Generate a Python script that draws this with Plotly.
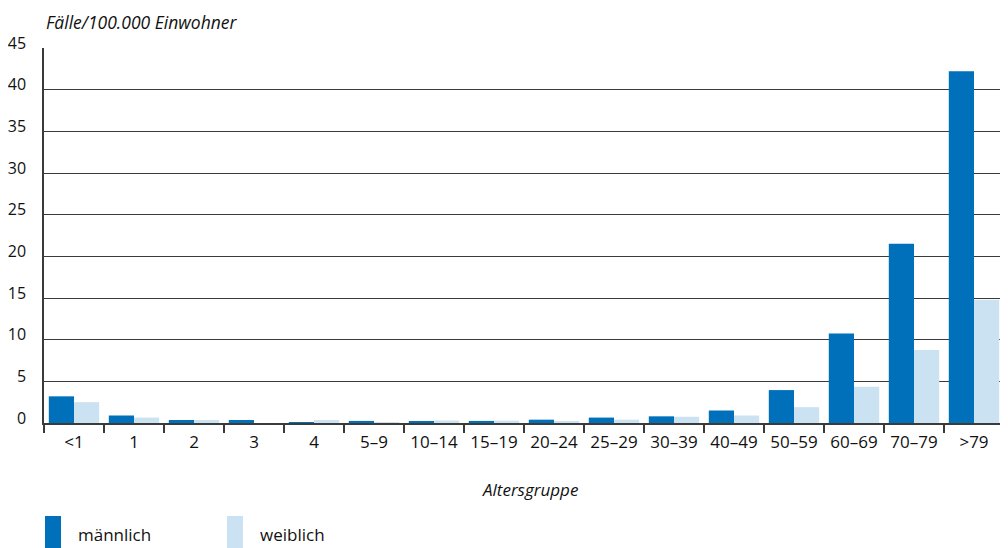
import plotly.graph_objects as go

categories = ["<1", "1", "2", "3", "4", "5–9", "10–14", "15–19", "20–24", "25–29",
              "30–39", "40–49", "50–59", "60–69", "70–79", ">79"]
maennlich = [3.2, 0.9, 0.36, 0.36, 0.04, 0.25, 0.2, 0.25, 0.4, 0.65,
             0.8, 1.5, 3.95, 10.75, 21.5, 42.2]
weiblich = [2.5, 0.65, 0.36, 0.0, 0.36, 0.12, 0.3, 0.28, 0.15, 0.4,
            0.75, 0.9, 1.9, 4.35, 8.75, 14.8]
y_ticks = [0, 5, 10, 15, 20, 25, 30, 35, 40, 45]

MALE = "#0070BA"
FEMALE = "#CAE2F1"
FONT = "Open Sans"
TXT = "#111111"
LINE = "#3a3a3a"

# page body has an 8px margin; figure is sized to fill the visible window
W, H = 1000, 540
L, R, T, B = 36, 4, 40, 125
PW, PH = W - L - R, H - T - B


def px_x(fx):
    return (fx - L) / PW


def px_y(fy):
    return (H - B - fy) / PH


fig = go.Figure()
fig.add_trace(go.Bar(x=categories, y=maennlich, name="männlich",
                     marker=dict(color=MALE, line=dict(width=0))))
fig.add_trace(go.Bar(x=categories, y=weiblich, name="weiblich",
                     marker=dict(color=FEMALE, line=dict(width=0))))

fig.update_layout(
    width=W, height=H,
    margin=dict(l=L, r=R, t=T, b=B, autoexpand=False),
    paper_bgcolor="white", plot_bgcolor="white",
    barmode="group", bargap=0.16, bargroupgap=0,
    showlegend=False,
    font=dict(family=FONT, size=17, color=TXT),
)
fig.update_xaxes(
    type="category", showgrid=False, showline=True, linecolor=LINE, linewidth=1.5,
    ticks="outside", tickson="boundaries", ticklen=8, tickcolor=LINE, tickwidth=1.5,
    ticklabelstandoff=3,
    tickfont=dict(family=FONT, size=17, color=TXT), automargin=False,
)
fig.update_yaxes(
    range=[0, 45], tickvals=y_ticks, showgrid=True, gridcolor=LINE, gridwidth=1.4,
    showline=True, linecolor=LINE, linewidth=1.5, ticks="", ticklabelstandoff=13,
    ticklabelshift=-5, zeroline=False, automargin=False,
    tickfont=dict(family=FONT, size=16, color=TXT),
)

# axis titles
fig.add_annotation(text="<i>Fälle/100.000 Einwohner</i>", xref="paper", yref="paper",
                   x=px_x(36), y=px_y(0), xanchor="left", yanchor="top",
                   showarrow=False, font=dict(family=FONT, size=17.5, color=TXT))
fig.add_annotation(text="<i>Altersgruppe</i>", xref="paper", yref="paper",
                   x=px_x(522), y=px_y(481), xanchor="center", yanchor="middle",
                   showarrow=False, font=dict(family=FONT, size=17, color=TXT))

# legend (swatches + labels)
legend_items = [("männlich", MALE, 37), ("weiblich", FEMALE, 219)]
for label, color, fx in legend_items:
    fig.add_shape(type="rect", xref="paper", yref="paper",
                  x0=px_x(fx), x1=px_x(fx + 16),
                  y0=px_y(508), y1=px_y(541),
                  fillcolor=color, line=dict(width=0))
    fig.add_annotation(text=label, xref="paper", yref="paper",
                       x=px_x(fx + 31), y=px_y(540),
                       xanchor="left", yanchor="bottom", showarrow=False,
                       font=dict(family=FONT, size=17, color=TXT))

fig.write_html("out.html")
